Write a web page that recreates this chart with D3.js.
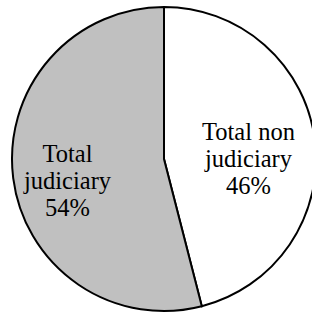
<!DOCTYPE html>
<html>
<head>
<meta charset="utf-8">
<script src="https://cdn.jsdelivr.net/npm/d3@7"></script>
<style>
html,body{margin:0;padding:0;background:#fff;overflow:hidden;}
svg{display:block;}
</style>
</head>
<body>
<svg id="chart" width="312" height="314"></svg>
<script>
const categories = ["Total non judiciary", "Total judiciary"];
const labelLines = [["Total non", "judiciary", "46%"], ["Total", "judiciary", "54%"]];
const values = [46, 54];
const colors = ["#ffffff", "#c0c0c0"];

const svg = d3.select("#chart");
const cx = 164, cy = 159, r = 152;
const g = svg.append("g").attr("transform", `translate(${cx},${cy})`);

const pie = d3.pie().sort(null).value(d => d)(values);
const arc = d3.arc().innerRadius(0).outerRadius(r);
const labelArc = d3.arc().innerRadius(r * 0.6).outerRadius(r * 0.6);

g.selectAll("path.slice").data(pie).join("path")
  .attr("class", "slice")
  .attr("d", arc)
  .attr("fill", (d, i) => colors[i])
  .attr("stroke", "#000")
  .attr("stroke-width", 2)
  .attr("stroke-linejoin", "miter");

const lineH = 27;
const labels = g.selectAll("text.lbl").data(pie).join("text")
  .attr("class", "lbl")
  .attr("transform", d => { const c = labelArc.centroid(d); return `translate(${c[0] - 6},${c[1] + 19})`; })
  .attr("text-anchor", "middle")
  .attr("font-size", 24.5)
  .style("font-family", "'Liberation Serif', 'Times New Roman', serif")
  .attr("fill", "#000");

labels.each(function(d, i) {
  const t = d3.select(this);
  labelLines[i].forEach((ln, k) => {
    t.append("tspan").attr("x", 0).attr("y", (k - 1) * lineH).text(ln);
  });
});
</script>
</body>
</html>
